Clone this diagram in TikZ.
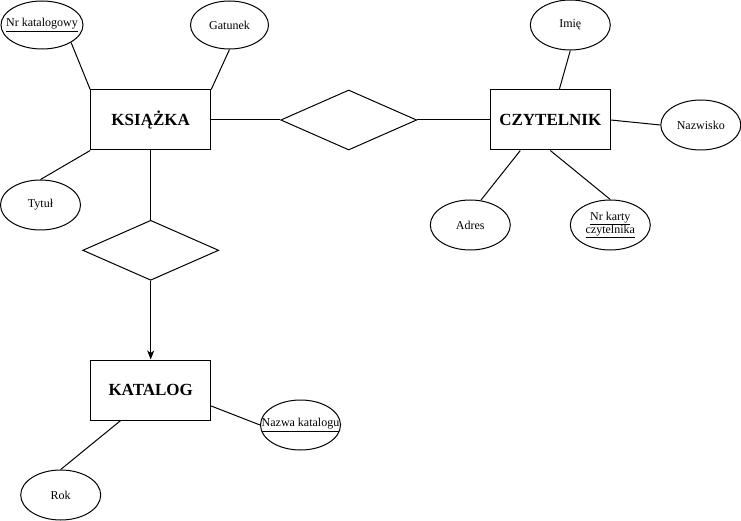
\documentclass[tikz,border=0pt]{standalone}
\usepackage{fontspec}
\setmainfont{Liberation Serif}
\usetikzlibrary{shapes.geometric,arrows.meta}
\tikzset{
  entity/.style={draw, line width=1pt, rectangle, minimum width=120pt, minimum height=60pt, inner sep=0pt, font=\fontsize{17}{20}\selectfont\bfseries},
  attr/.style={draw, line width=1pt, ellipse, minimum width=80pt, minimum height=50pt, inner sep=0pt, font=\fontsize{12}{14}\selectfont, align=center},
  rel/.style={draw, line width=1pt, diamond, minimum width=136pt, minimum height=60pt, inner sep=0pt},
  conn/.style={line width=1pt}
}
\begin{document}
\begin{tikzpicture}[x=1pt,y=-1pt]
\useasboundingbox (0,0) rectangle (741,521);
% entities
\node[entity] (ks) at (150.7,120) {KSIĄŻKA};
\node[entity] (cz) at (550.3,120) {CZYTELNIK};
\node[entity] (kat) at (150.7,390) {KATALOG};
% relationships
\node[rel] (d1) at (348.7,120) {};
\node[rel] (d2) at (150.7,250.3) {};
% attributes
\node[attr, minimum width=82pt, minimum height=48pt] (nrk) at (42,25) {\makebox[0pt]{\underline{Nr katalogowy}}};
\node[attr, minimum width=78pt, minimum height=48pt] (gat) at (229.5,25) {Gatunek};
\node[attr] (tyt) at (40.5,205) {Tytuł};
\node[attr] (imie) at (570.3,25) {Imię};
\node[attr] (naz) at (700.8,125) {Nazwisko};
\node[attr] (adr) at (470.3,225) {Adres};
\node[attr] (nrk2) at (610.3,225) {\underline{Nr karty}\\[-1pt]\underline{czytelnika}};
\node[attr] (naz2) at (300.5,425) {\makebox[0pt]{\underline{Nazwa katalogu}}};
\node[attr] (rok) at (60.7,495) {Rok};
% connectors
\draw[conn] (ks.north west) -- (nrk.-31);
\draw[conn] (ks.north east) -- (gat.south);
\draw[conn] (ks.south west) -- (tyt.north);
\draw[conn] (ks.east) -- (d1.west);
\draw[conn] (d1.east) -- (cz.west);
\draw[conn] ([xshift=9pt]cz.north) -- (imie.south);
\draw[conn] (cz.east) -- (naz.west);
\draw[conn] ([xshift=-30pt]cz.south) -- (adr.67);
\draw[conn] (cz.south) -- (nrk2.north);
\draw[conn] (ks.south) -- (d2.north);
\draw[conn, -{Stealth[length=9pt,width=7pt,inset=2.5pt]}] (d2.south) -- (kat.north);
\draw[conn] ([yshift=-16pt]kat.east) -- (naz2.west);
\draw[conn] ([xshift=-30pt]kat.south) -- (rok.north);
\end{tikzpicture}
\end{document}
